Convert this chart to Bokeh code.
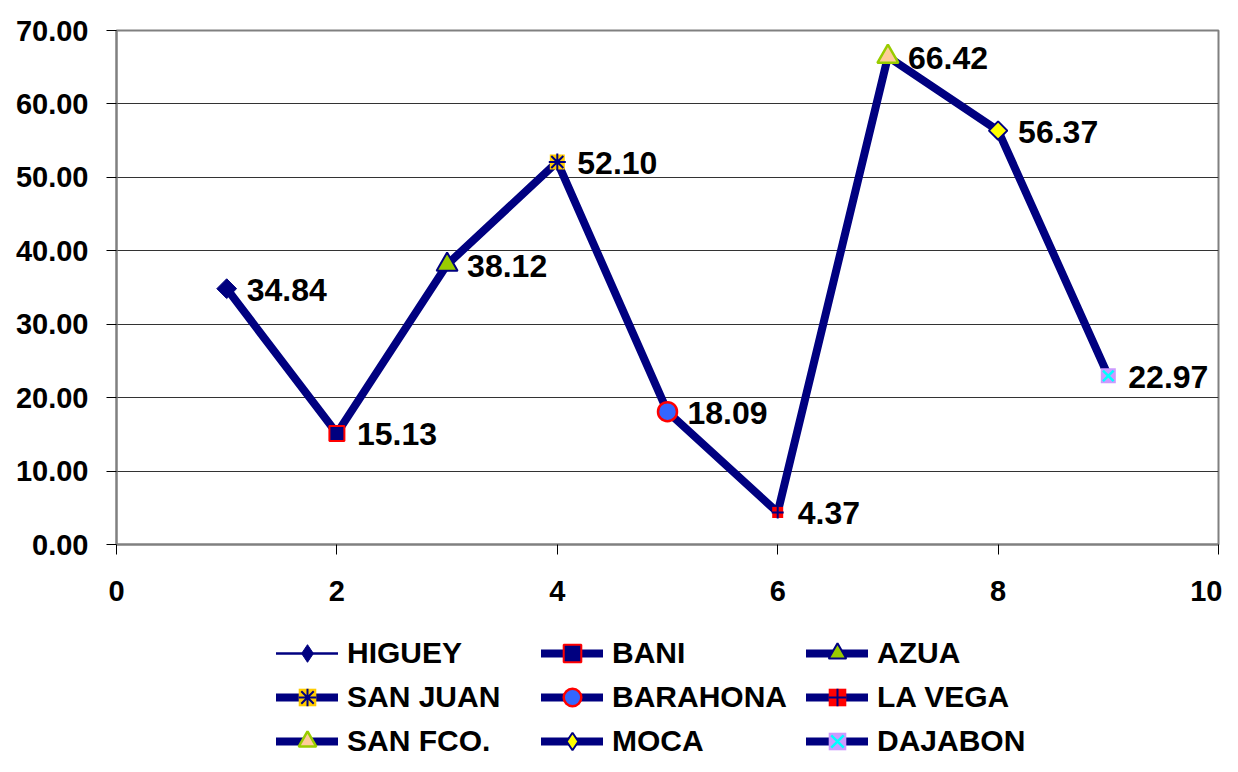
import math
from bokeh.plotting import figure
from bokeh.layouts import column
from bokeh.models import (ColumnDataSource, FixedTicker, NumeralTickFormatter, Legend,
                          LegendItem, Range1d)
from bokeh.core.properties import value
from bokeh.embed import file_html
from bokeh.resources import INLINE

# ---- data ----
cities = ["HIGUEY", "BANI", "AZUA", "SAN JUAN", "BARAHONA", "LA VEGA",
          "SAN FCO.", "MOCA", "DAJABON"]
xpos = [1, 2, 3, 4, 5, 6, 7, 8, 9]
values = [34.84, 15.13, 38.12, 52.10, 18.09, 4.37, 66.42, 56.37, 22.97]
y_ticks = [0, 10, 20, 30, 40, 50, 60, 70]
x_ticks = [0, 2, 4, 6, 8, 10]

NAVY = "#000080"
FONT = "Liberation Sans"

p = figure(frame_width=1102, frame_height=514, output_backend="svg",
           toolbar_location=None, x_range=Range1d(0, 10), y_range=Range1d(0, 70),
           min_border_left=116, min_border_right=4, min_border_top=30,
           min_border_bottom=72, background_fill_color="white",
           border_fill_color="white")

p.outline_line_color = "#808080"
p.outline_line_width = 2
p.xgrid.visible = False
p.ygrid.grid_line_color = "#333333"
p.ygrid.grid_line_width = 1
p.ygrid.ticker = FixedTicker(ticks=y_ticks)

for ax in (p.xaxis[0], p.yaxis[0]):
    ax.axis_line_color = "#808080"
    ax.axis_line_width = 2
    ax.major_tick_line_color = "black"
    ax.major_tick_line_width = 1
    ax.major_tick_out = 10
    ax.major_tick_in = 0
    ax.minor_tick_out = 0
    ax.minor_tick_in = 0
    ax.major_label_text_font = FONT
    ax.major_label_text_font_style = "bold"
    ax.major_label_text_font_size = "29px"
    ax.major_label_text_color = "black"

p.yaxis[0].ticker = FixedTicker(ticks=y_ticks)
p.yaxis[0].formatter = NumeralTickFormatter(format="0.00")
p.yaxis[0].major_label_standoff = 18
p.xaxis[0].ticker = FixedTicker(ticks=x_ticks)
p.xaxis[0].major_label_standoff = 26

# main connecting line
p.line(xpos, values, line_color=NAVY, line_width=8, line_join="round")


def draw_marker(fig, i, x, y, legend_glyph=False):
    """Marker renderers for series i (Excel-like marker styles)."""
    d = dict(x=x, y=y)
    if i in (0, 7):   # HIGUEY, MOCA: diamonds
        fill = NAVY if i == 0 else "#FFFF00"
        lw = 1 if i == 0 else 2
        if legend_glyph:
            return [fig.scatter(**d, marker="diamond", size=18, fill_color=fill,
                                line_color=NAVY, line_width=lw)]
        return [fig.scatter(**d, marker="square", angle=math.pi / 4,
                            size=14 if i == 0 else 13, fill_color=fill,
                            line_color=NAVY, line_width=lw)]
    if i == 1:   # BANI
        return [fig.scatter(**d, marker="square", size=15, fill_color=NAVY,
                            line_color="#FF0000", line_width=2)]
    if i == 2:   # AZUA
        return [fig.scatter(**d, marker="triangle", size=21, fill_color="#99CC00",
                            line_color=NAVY, line_width=2)]
    if i == 3:   # SAN JUAN
        return [fig.scatter(**d, marker="square", size=15, fill_color="#FFCC00",
                            line_color=None),
                fig.scatter(**d, marker="asterisk", size=17, line_color=NAVY,
                            line_width=2)]
    if i == 4:   # BARAHONA
        return [fig.scatter(**d, marker="circle", size=19, fill_color="#3366FF",
                            line_color="#FF0000", line_width=2.5)]
    if i == 5:   # LA VEGA
        return [fig.scatter(**d, marker="square", size=11, fill_color="#FF0000",
                            line_color=None),
                fig.scatter(**d, marker="cross", size=12, line_color=NAVY,
                            line_width=2)]
    if i == 6:   # SAN FCO.
        return [fig.scatter(**d, marker="triangle", size=21, fill_color="#FFCC99",
                            line_color="#99CC00", line_width=2.5)]
    # DAJABON
    return [fig.scatter(**d, marker="square", size=15, fill_color="#CC99FF",
                        line_color=None),
            fig.scatter(**d, marker="x", size=15, line_color="#00FFFF",
                        line_width=2.5)]


for i in range(len(cities)):
    draw_marker(p, i, [xpos[i]], [values[i]])

# data labels
lbl_src = ColumnDataSource(dict(x=xpos, y=values,
                                t=["{:.2f}".format(v) for v in values]))
p.text(x="x", y="y", text="t", source=lbl_src, x_offset=20, y_offset=1,
       text_align="left", text_baseline="middle", text_font=value(FONT),
       text_font_style="bold", text_font_size="32px", text_color="black")

# ---- legend figure ----
q = figure(width=1222, height=140, output_backend="svg", toolbar_location=None,
           x_range=Range1d(0, 1), y_range=Range1d(0, 1),
           min_border_left=0, min_border_right=0, min_border_top=0,
           min_border_bottom=0, background_fill_color="white",
           border_fill_color="white")
q.axis.visible = False
q.grid.visible = False
q.outline_line_color = None

thin = q.line(x=[-5, -4], y=[-5, -4], line_color=NAVY, line_width=2.5,
              line_cap="round")
thick = q.line(x=[-5, -4], y=[-5, -4], line_color=NAVY, line_width=8,
               line_cap="round")
item_by_city = []
for i, name in enumerate(cities):
    ln = thin if i == 0 else thick
    rs = draw_marker(q, i, [-5], [-5], legend_glyph=True)
    item_by_city.append(LegendItem(label=name, renderers=[ln] + rs))

# legend fills column by column: reorder so it reads row by row
ncols = 3
nrows = (len(cities) + ncols - 1) // ncols
order = [r * ncols + c for c in range(ncols) for r in range(nrows)]
items = [item_by_city[k] for k in order]

legend = Legend(items=items, ncols=ncols, location=(160, -7),
                glyph_width=62, glyph_height=44, label_height=44,
                label_width=194, label_standoff=9, spacing=0, padding=0,
                margin=0, border_line_color=None, background_fill_alpha=0,
                label_text_font=FONT, label_text_font_style="bold",
                label_text_font_size="30px", label_text_color="black",
                label_text_baseline="middle")
q.add_layout(legend, "center")

layout = column(p, q, spacing=0)
open("out.html", "w").write(file_html(layout, INLINE))
